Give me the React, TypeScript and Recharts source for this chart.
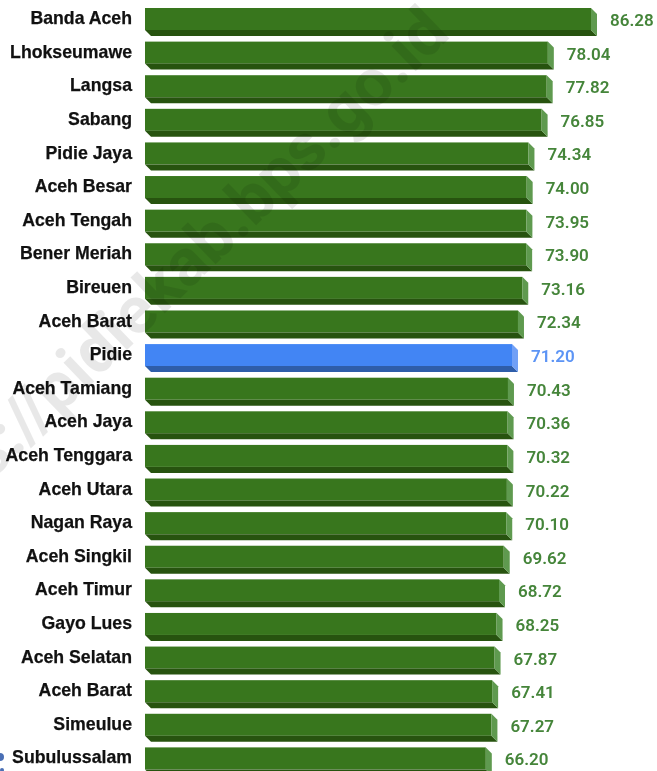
import React from "react";
import { BarChart, Bar, XAxis, YAxis, LabelList } from "recharts";

const regions = ["Banda Aceh","Lhokseumawe","Langsa","Sabang","Pidie Jaya","Aceh Besar","Aceh Tengah","Bener Meriah","Bireuen","Aceh Barat","Pidie","Aceh Tamiang","Aceh Jaya","Aceh Tenggara","Aceh Utara","Nagan Raya","Aceh Singkil","Aceh Timur","Gayo Lues","Aceh Selatan","Aceh Barat","Simeulue","Subulussalam"];
const scores = [86.28,78.04,77.82,76.85,74.34,74.0,73.95,73.9,73.16,72.34,71.2,70.43,70.36,70.32,70.22,70.1,69.62,68.72,68.25,67.87,67.41,67.27,66.2];
const highlighted = "Pidie";
const watermark = "https://pidiekab.bps.go.id";

const rows = regions.map((name, id) => ({ id, name, score: scores[id] }));

const GREEN = { front: "#38761d", bottom: "#27530f", side: "#5f9a4f", text: "#45853a" };
const BLUE = { front: "#4285f4", bottom: "#2e5da9", side: "#71a0f6", text: "#5c94f5" };
const D = 6;

function Bar3D(props: any) {
  const { x, y, width, height, payload } = props;
  const c = payload.name === highlighted ? BLUE : GREEN;
  const r = x + width, b = y + height;
  return (
    <g>
      <rect x={x} y={y} width={width - D} height={height - D} fill={c.front} />
      <polygon points={`${x},${b - D} ${r - D},${b - D} ${r},${b} ${x + D},${b}`} fill={c.bottom} />
      <polygon points={`${r - D},${y} ${r},${y + D} ${r},${b} ${r - D},${b - D}`} fill={c.side} />
    </g>
  );
}

function ValueLabel(props: any) {
  const { x, y, width, height, index } = props;
  const c = regions[index] === highlighted ? BLUE : GREEN;
  return (
    <text x={x + width + 13} y={y + height / 2 - 2} dominantBaseline="central" fill={c.text}
      fontFamily="Roboto" fontWeight={600} fontSize={17}>
      {scores[index].toFixed(2)}
    </text>
  );
}

export default function App() {
  return (
    <div style={{ position: "absolute", left: 0, top: 0, width: 657, height: 771, overflow: "hidden", background: "#fff", filter: "blur(0.35px)" }}>
      <BarChart width={657} height={778} data={rows} layout="vertical" barCategoryGap={0}
        margin={{ top: 5, right: 60, bottom: 0, left: 0 }}>
        <XAxis type="number" hide domain={[0, 86.28]} />
        <YAxis type="category" dataKey="id" width={145} interval={0} axisLine={false} tickLine={false}
          tickSize={0} tickMargin={13} tickFormatter={(i: number) => regions[i]}
          tick={{ fill: "#111", stroke: "#111", strokeWidth: 0.25, fontSize: 17.7, fontWeight: 700, fontFamily: "Liberation Sans", dy: -4 }} />
        <Bar dataKey="score" barSize={28} shape={Bar3D} isAnimationActive={false}>
          <LabelList dataKey="score" content={ValueLabel} />
        </Bar>
      </BarChart>
      <svg width={657} height={771} style={{ position: "absolute", left: 0, top: 0, pointerEvents: "none" }}>
        <text x={452} y={36} textAnchor="end" transform="rotate(-44 452 36)" fontFamily="Roboto" fontWeight={700}
          fontSize={66} fill="#000" fillOpacity={0.09}>
          {watermark}
        </text>
        <circle cx={0} cy={757} r={4} fill="#4a6fb5" />
        <circle cx={2} cy={770} r={2} fill="#4a6fb5" />
      </svg>
    </div>
  );
}
